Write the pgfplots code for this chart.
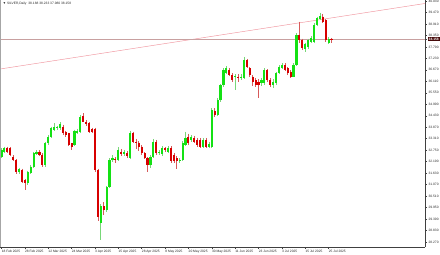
\documentclass[border=0pt]{standalone}
\usepackage{fontspec}
\setmainfont{Liberation Sans}
\usepackage{pgfplots}
\usepackage{pgfplotstable}
\pgfplotsset{compat=1.18}
\definecolor{bull}{RGB}{20,225,20}
\definecolor{bear}{RGB}{215,0,0}
\definecolor{bullwick}{RGB}{120,215,120}
\definecolor{bearwick}{RGB}{215,90,90}
\definecolor{trend}{RGB}{240,150,160}
\definecolor{bidline}{RGB}{200,160,160}
\definecolor{pricebox}{RGB}{70,10,10}

% bullish candles: index open high low close
\pgfplotstableread{
i o h l c
0 32.43 32.84 32.35 32.76
1 32.68 32.92 32.63 32.84
6 31.70 31.90 31.60 31.81
9 31.13 31.75 31.05 31.70
10 31.65 32.00 31.60 31.94
11 31.94 32.65 31.90 32.60
12 32.56 32.75 32.50 32.68
15 32.03 33.15 31.95 33.08
16 33.08 33.50 33.00 33.41
17 33.41 33.90 33.35 33.82
18 33.73 34.05 33.70 33.90
19 33.82 33.95 33.75 33.90
20 33.82 34.10 33.75 34.03
25 33.00 33.75 32.95 33.70
26 33.60 33.80 33.55 33.70
27 33.65 34.45 33.60 34.35
34 29.18 30.10 28.36 30.02
36 29.83 31.00 29.75 30.94
37 30.97 32.35 30.90 32.27
38 32.27 32.50 32.15 32.35
40 32.27 32.90 32.20 32.76
42 32.55 32.75 32.45 32.68
44 32.35 33.70 32.30 33.57
51 32.00 32.50 31.90 32.43
52 32.43 33.30 32.35 33.17
54 32.60 32.75 32.50 32.68
55 32.55 32.95 32.45 32.84
57 32.68 32.95 32.60 32.84
61 32.20 32.35 32.10 32.27
62 32.27 33.20 32.20 33.08
63 33.00 33.65 32.95 33.33
65 33.25 33.50 33.15 33.41
69 32.92 33.35 32.85 33.25
71 32.92 33.15 32.85 33.05
72 32.92 34.80 32.85 34.71
74 34.47 35.30 34.40 35.20
75 35.20 36.00 35.10 35.93
76 35.93 36.75 35.85 36.66
77 36.50 36.85 36.45 36.74
80 36.30 36.45 35.70 36.36
82 36.26 36.45 36.15 36.34
83 36.26 37.30 36.20 37.15
89 36.01 36.25 35.90 36.17
90 36.01 36.75 35.95 36.66
93 35.93 36.20 35.80 36.09
94 36.01 36.55 35.95 36.50
95 36.50 36.90 36.45 36.83
96 36.74 37.00 36.70 36.91
100 36.34 37.00 36.30 36.91
101 36.91 38.45 36.85 38.37
104 37.70 38.00 37.55 37.95
105 37.80 38.20 37.70 38.13
106 38.05 38.30 38.00 38.21
107 38.05 38.95 38.00 38.86
108 38.86 39.27 38.80 39.19
109 39.14 39.46 39.10 39.30
112 38.00 38.25 37.95 38.16
}\bulltab

% bearish candles: index open high low close
\pgfplotstableread{
i o h l c
2 32.84 32.92 32.60 32.68
3 32.84 32.90 32.45 32.51
4 32.43 32.50 32.20 32.27
5 32.27 32.30 31.60 31.70
7 31.78 31.85 31.15 31.21
8 31.29 31.35 30.81 31.13
13 32.68 32.75 32.45 32.51
14 32.51 32.60 31.95 32.03
21 33.90 34.00 33.50 33.57
22 33.65 33.70 33.40 33.49
23 33.57 33.60 32.95 33.00
24 33.08 33.10 32.76 32.92
28 34.42 34.55 34.10 34.14
29 34.14 34.20 33.95 34.03
30 34.06 34.10 33.60 33.65
31 33.77 33.85 33.60 33.65
32 33.77 33.85 31.70 31.78
33 31.78 31.85 29.30 29.50
35 30.02 30.20 29.60 29.83
39 32.30 32.40 32.10 32.27
41 32.68 32.80 32.45 32.55
43 32.60 32.70 32.35 32.45
45 33.57 33.65 33.10 33.17
46 33.17 33.30 32.80 33.08
47 33.12 33.20 32.70 32.92
48 32.92 33.00 32.50 32.60
49 32.60 32.65 32.30 32.35
50 32.35 32.40 31.70 32.00
53 33.17 33.25 32.50 32.60
56 32.84 32.90 32.65 32.76
58 32.84 32.95 32.10 32.20
59 32.51 32.60 32.10 32.20
60 32.35 32.45 31.85 32.20
64 33.41 33.55 33.00 33.08
66 33.33 33.45 33.10 33.17
67 33.25 33.35 32.90 33.00
68 33.25 33.35 32.85 32.92
70 33.25 33.35 32.85 32.92
73 34.65 34.80 34.35 34.45
78 36.66 36.75 36.35 36.42
79 36.42 36.50 36.10 36.17
81 36.34 36.45 36.10 36.25
84 37.15 37.20 36.75 36.83
85 36.74 36.80 36.30 36.42
86 36.34 36.40 35.90 36.09
87 36.17 36.25 35.85 35.93
88 36.09 36.20 35.30 35.93
91 36.66 36.70 36.10 36.17
92 36.17 36.25 35.85 35.93
97 36.91 37.00 36.60 36.66
98 36.74 36.80 36.40 36.50
99 36.58 36.65 36.25 36.34
102 38.37 39.02 38.00 38.13
103 38.13 38.20 37.65 37.72
110 39.27 39.40 38.95 39.02
111 39.10 39.15 38.05 38.13
113 38.188 38.233 37.980 38.158
}\beartab

\begin{document}
\begin{tikzpicture}
\begin{axis}[
  scale only axis,
  width=318.75pt, height=185.25pt,
  xmin=-0.51, xmax=145,
  ymin=28.02, ymax=40.08,
  axis x line*=bottom, axis y line*=right,
  axis line style={draw=black!75, line width=0.4pt},
  tick align=outside, major tick length=1.4pt,
  tick style={draw=black!75, line width=0.3pt},
  every tick label/.append style={font=\fontsize{2.45}{3}\selectfont, text=black!85},
  xtick={0,8,...,112},
  xticklabels={18 Feb 2025,28 Feb 2025,12 Mar 2025,24 Mar 2025,3 Apr 2025,15 Apr 2025,28 Apr 2025,8 May 2025,20 May 2025,30 May 2025,11 Jun 2025,23 Jun 2025,3 Jul 2025,15 Jul 2025,25 Jul 2025},
  xticklabel style={anchor=north west, inner sep=0.5pt, xshift=-0.5pt},
  ytick={28.27,28.83,29.39,29.95,30.51,31.07,31.63,32.19,32.75,33.31,33.87,34.43,34.99,35.55,36.11,36.67,37.23,37.79,38.35,38.91,39.47,40.03},
  yticklabels={28.270,28.830,29.390,29.950,30.510,31.070,31.630,32.190,32.750,33.310,33.870,34.430,34.990,35.550,36.110,36.670,37.230,37.790,38.350,38.910,39.470,40.030},
  yticklabel pos=right,
  yticklabel style={anchor=west, inner sep=0.5pt, xshift=0.6pt},
  extra y ticks={38.158},
  extra y tick labels={38.158},
  extra y tick style={yticklabel style={fill=pricebox, text=white, inner sep=0.6pt, font=\fontsize{2.45}{3}\selectfont\bfseries}},
  candle/.style={draw=none, mark=none, forget plot,
    error bars/.cd, y dir=minus, y explicit, error mark=none},
  clip=true,
]
% trend line and bid line
\addplot[trend, line width=0.35pt, forget plot] coordinates {(-0.51,36.71) (145,39.91)};
\addplot[bidline, line width=0.5pt, forget plot] coordinates {(-0.51,38.158) (145,38.158)};
% wicks
\addplot[candle, error bar style={draw=bullwick, line width=0.45pt}]
  table[x=i, y=h, y error minus expr=\thisrow{h}-\thisrow{l}] {\bulltab};
\addplot[candle, error bar style={draw=bearwick, line width=0.45pt}]
  table[x=i, y=h, y error minus expr=\thisrow{h}-\thisrow{l}] {\beartab};
% bodies
\addplot[candle, error bar style={draw=bull, line width=1.6pt}]
  table[x=i, y=c, y error minus expr=\thisrow{c}-\thisrow{o}] {\bulltab};
\addplot[candle, error bar style={draw=bear, line width=1.6pt}]
  table[x=i, y=o, y error minus expr=\thisrow{o}-\thisrow{c}] {\beartab};
\draw[black!35, line width=0.5pt] (rel axis cs:0,0) -- (rel axis cs:0,1);
\node[anchor=north west, inner sep=0pt, font=\fontsize{2.45}{3}\selectfont, text=black!85] at ([xshift=2pt,yshift=-1.3pt]rel axis cs:0,1) {▼ SILVER,Daily\ \ 38.188 38.233 37.980 38.158};
\end{axis}
\pgfresetboundingbox
\path (0pt,-5.25pt) rectangle (330pt,185.25pt);
\end{tikzpicture}
\end{document}
